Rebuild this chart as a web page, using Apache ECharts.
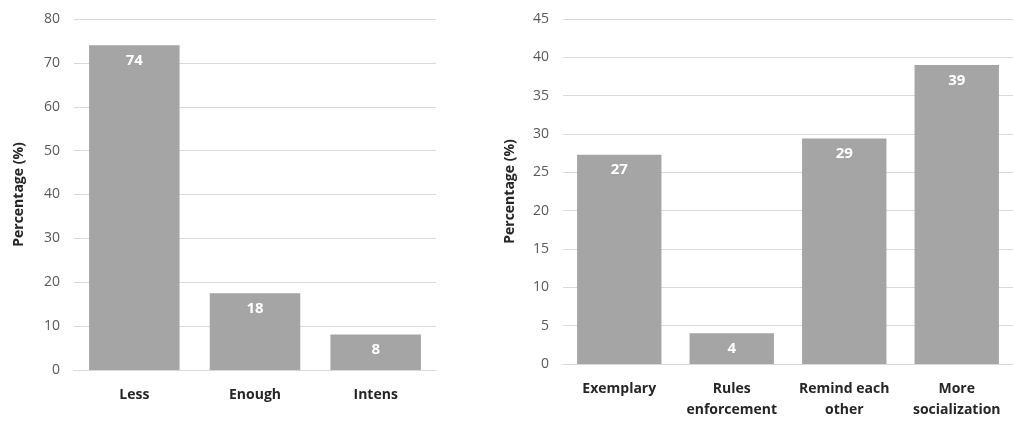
<!DOCTYPE html>
<html>
<head>
<meta charset="utf-8">
<script src="https://cdn.jsdelivr.net/npm/echarts@6/dist/echarts.min.js"></script>
<style>html,body{margin:0;padding:0;background:#fff}#c{width:1013px;height:421px}</style>
</head>
<body>
<div id="c"></div>
<script>
const leftCategories = ['Less', 'Enough', 'Intens'];
const leftValues = [74.0, 17.5, 8.1];
const rightCategories = ['Exemplary', 'Rules\nenforcement', 'Remind each\nother', 'More\nsocialization'];
const rightValues = [27.3, 4.0, 29.4, 39.0];
const yName = 'Percentage (%)';

const FONT = 'Open Sans';
const barColor = '#a5a5a5';
const gridColor = '#d9d9d9';

const chart = echarts.init(document.getElementById('c'), null, {renderer: 'canvas'});

function xAxis(gridIndex, data) {
  return {
    type: 'category', gridIndex, data,
    axisLine: {lineStyle: {color: gridColor, width: 1}},
    axisTick: {show: false},
    axisLabel: {color: '#262626', fontFamily: FONT, fontWeight: 'bold', fontSize: 14, margin: 15, lineHeight: 21, interval: 0}
  };
}
function yAxis(gridIndex, max, interval, nameGap) {
  return {
    type: 'value', gridIndex, min: 0, max, interval,
    name: yName, nameLocation: 'middle', nameGap,
    nameTextStyle: {color: '#262626', fontFamily: FONT, fontWeight: 'bold', fontSize: 14},
    axisLine: {show: false}, axisTick: {show: false},
    axisLabel: {color: '#595959', fontFamily: FONT, fontSize: 14, margin: 14},
    splitLine: {lineStyle: {color: gridColor, width: 1}}
  };
}
function series(i, data) {
  return {
    type: 'bar', xAxisIndex: i, yAxisIndex: i, data,
    barCategoryGap: '25%',
    itemStyle: {color: barColor},
    label: {show: true, position: 'insideTop', distance: 8, color: '#ffffff', fontFamily: FONT, fontWeight: 'bold', fontSize: 15,
      formatter: p => Math.round(p.value)}
  };
}

chart.setOption({
  animation: false,
  backgroundColor: '#ffffff',
  grid: [
    {left: 74, top: 19, width: 362, height: 351},
    {left: 563, top: 19, width: 461, height: 349}
  ],
  xAxis: [xAxis(0, leftCategories), xAxis(1, rightCategories)],
  yAxis: [yAxis(0, 80, 10, 48), yAxis(1, 45, 5, 46)],
  series: [series(0, leftValues), series(1, rightValues)]
});
</script>
</body>
</html>
